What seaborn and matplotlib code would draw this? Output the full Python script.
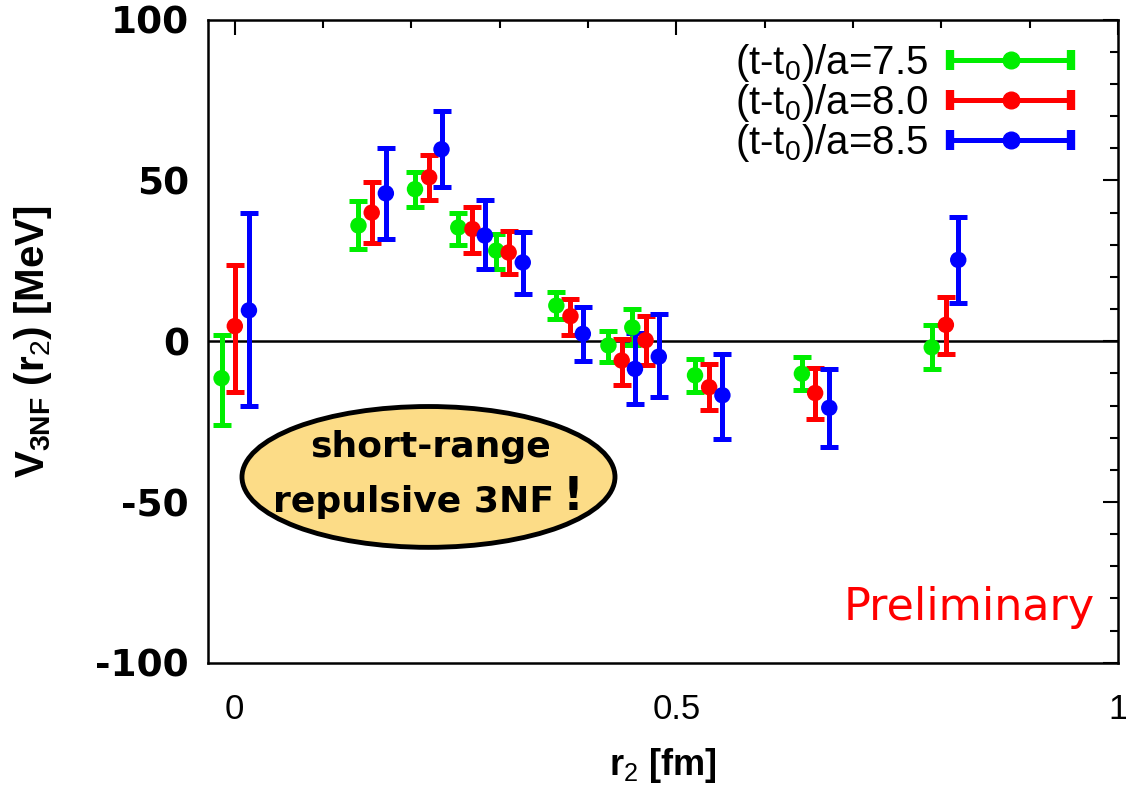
import numpy as np
import pandas as pd
import matplotlib
matplotlib.use("Agg")
import matplotlib.pyplot as plt
import seaborn as sns
from matplotlib.lines import Line2D
from matplotlib.patches import Ellipse
from matplotlib.legend_handler import HandlerBase
from matplotlib.ticker import MultipleLocator

# ---- data ----
labels = ["(t-t$_0$)/a=7.5", "(t-t$_0$)/a=8.0", "(t-t$_0$)/a=8.5"]
colors = ["#00ee00", "#ff0000", "#0000ff"]

r_75 = [-0.015, 0.140, 0.204, 0.253, 0.296, 0.364, 0.423, 0.450, 0.521, 0.642, 0.789]
v_75 = [-11.5, 36.0, 47.3, 35.4, 28.2, 11.1, -1.3, 4.3, -10.6, -10.1, -1.9]
hi_75 = [2.0, 43.5, 52.5, 40.0, 33.5, 15.2, 3.3, 10.0, -5.5, -5.0, 5.0]
lo_75 = [-26.0, 28.7, 41.6, 29.8, 22.5, 6.9, -6.5, -1.3, -15.8, -15.3, -8.6]

r_80 = [0.000, 0.155, 0.220, 0.269, 0.310, 0.380, 0.438, 0.465, 0.537, 0.657, 0.805]
v_80 = [4.7, 40.0, 51.0, 34.9, 27.6, 7.8, -6.0, 0.3, -14.3, -16.1, 5.1]
hi_80 = [23.6, 49.4, 58.0, 41.6, 34.4, 13.1, 0.7, 8.0, -7.2, -8.3, 13.7]
lo_80 = [-15.8, 30.7, 43.9, 27.6, 20.9, 1.8, -13.7, -7.5, -21.5, -24.1, -4.0]

r_85 = [0.016, 0.171, 0.234, 0.283, 0.326, 0.394, 0.453, 0.480, 0.552, 0.673, 0.819]
v_85 = [9.6, 46.0, 59.7, 32.9, 24.5, 2.3, -8.6, -4.8, -16.8, -20.7, 25.3]
hi_85 = [40.0, 60.2, 71.7, 43.8, 34.0, 10.8, 2.5, 8.5, -4.0, -8.6, 38.5]
lo_85 = [-20.0, 31.8, 48.0, 22.5, 14.7, -6.0, -19.5, -17.4, -30.3, -32.9, 11.8]

x_ticks = [0, 0.5, 1]
x_ticklabels = ["0", "0.5", "1"]
y_ticks = [-100, -50, 0, 50, 100]

frames = []
for lab, r, v, hi, lo in zip(labels,
                             [r_75, r_80, r_85], [v_75, v_80, v_85],
                             [hi_75, hi_80, hi_85], [lo_75, lo_80, lo_85]):
    frames.append(pd.DataFrame({"r": r, "v": v, "hi": hi, "lo": lo, "series": lab}))
df = pd.concat(frames, ignore_index=True)

# ---- style ----
sns.set_style("white")
plt.rcParams["font.family"] = ["Liberation Sans", "DejaVu Sans"]
plt.rcParams["mathtext.fontset"] = "custom"
plt.rcParams["mathtext.rm"] = "Liberation Sans"
plt.rcParams["mathtext.bf"] = "Liberation Sans:bold"
plt.rcParams["axes.unicode_minus"] = False
for k in ["text.color", "axes.labelcolor", "xtick.color", "ytick.color"]:
    plt.rcParams[k] = "black"

fig = plt.figure(figsize=(11.26, 7.89), dpi=100)
ax = fig.add_axes([0.185, 0.160, 0.808, 0.815])

ax.axhline(0, color="black", lw=1.8, zorder=1)

for lab, col in zip(labels, colors):
    d = df[df["series"] == lab]
    yerr = np.vstack([d["v"] - d["lo"], d["hi"] - d["v"]])
    ax.errorbar(d["r"], d["v"], yerr=yerr, fmt="none", ecolor=col,
                elinewidth=3.6, capsize=6.5, capthick=3.6, zorder=2)
sns.scatterplot(data=df, x="r", y="v", hue="series", palette=colors,
                hue_order=labels, s=140, edgecolor="none", legend=False,
                ax=ax, zorder=3)

ax.set_xlim(-0.03, 0.995)
ax.set_ylim(-100, 100)
ax.set_xticks(x_ticks)
ax.set_xticklabels(x_ticklabels)
ax.set_yticks(y_ticks)
ax.xaxis.set_minor_locator(MultipleLocator(0.1))
ax.yaxis.set_minor_locator(MultipleLocator(10))
ax.tick_params(which="both", direction="in", top=True, right=True,
               width=1.5, color="black")
ax.tick_params(which="major", length=11)
ax.tick_params(which="minor", length=6)
ax.tick_params(axis="x", which="major", labelsize=25, pad=22)
ax.tick_params(axis="y", which="major", labelsize=27, pad=14)
for t in ax.get_yticklabels():
    t.set_fontweight("bold")
    t.set_family("DejaVu Sans")
for s in ax.spines.values():
    s.set_linewidth(1.8)
    s.set_color("black")

ax.set_xlabel("r$_2$ [fm]", fontsize=26, fontweight="bold", labelpad=14)
ax.set_ylabel(r"V$_{\mathbf{3NF}}$ (r$_2$) [MeV]", fontsize=29,
              fontweight="bold", labelpad=30)


class HandlerHBar(HandlerBase):
    def create_artists(self, legend, orig_handle, xdescent, ydescent,
                       width, height, fontsize, trans):
        c = orig_handle.get_color()
        y = height / 2 - ydescent
        x0, x1 = -xdescent, width - xdescent
        line = Line2D([x0, x1], [y, y], color=c, lw=3.6, transform=trans)
        caps = Line2D([x0, x1], [y, y], ls="none", marker="|", ms=15,
                      mew=6, color=c, transform=trans)
        dot = Line2D([(x0 + x1) / 2], [y], ls="none", marker="o", ms=12,
                     color=c, transform=trans)
        return [line, caps, dot]


handles = [Line2D([], [], color=c) for c in colors]
ax.legend(handles, labels, loc="upper right", frameon=False, fontsize=29,
          markerfirst=False, handlelength=3.0, handletextpad=0.55,
          labelspacing=-0.05, borderaxespad=0.0,
          bbox_to_anchor=(0.966, 0.99),
          handler_map={Line2D: HandlerHBar()})

ell = Ellipse((0.242, 0.289), 0.41, 0.219, transform=ax.transAxes,
              facecolor="#fcdc87", edgecolor="black", lw=3.5, zorder=4)
ax.add_patch(ell)
ax.text(0.244, 0.336, "short-range", transform=ax.transAxes, ha="center",
        va="center", fontsize=26, fontweight="bold", family="DejaVu Sans",
        zorder=5)
ax.text(0.226, 0.250, "repulsive 3NF", transform=ax.transAxes, ha="center",
        va="center", fontsize=26, fontweight="bold", family="DejaVu Sans",
        zorder=5)
ax.text(0.401, 0.257, "!", transform=ax.transAxes, ha="center",
        va="center", fontsize=33, fontweight="bold", family="DejaVu Sans",
        zorder=5)
ax.text(0.975, 0.066, "Preliminary", transform=ax.transAxes, ha="right",
        va="baseline", fontsize=32, color="#ff0000", family="DejaVu Sans")

fig.savefig("out.png", dpi=100)
